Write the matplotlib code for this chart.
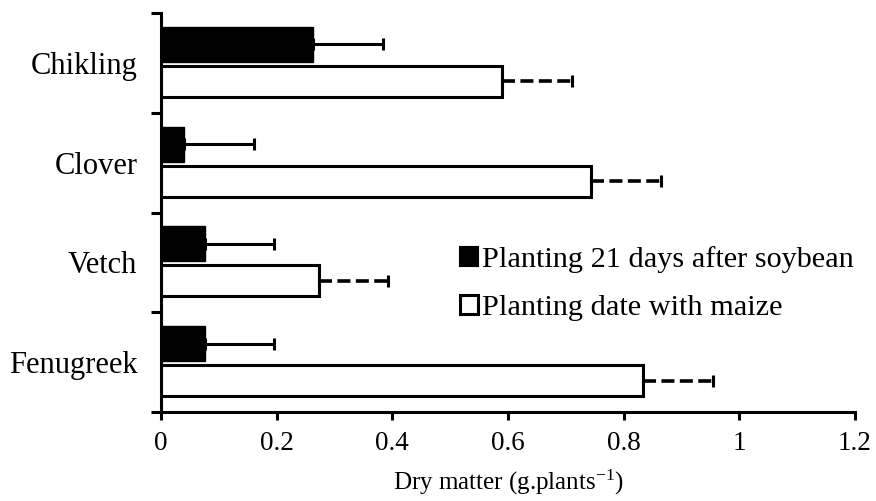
import matplotlib
matplotlib.use("Agg")
import matplotlib.pyplot as plt
from matplotlib.patches import Patch
import numpy as np

plt.rcParams['font.family'] = ['Liberation Serif', 'DejaVu Serif']
plt.rcParams['mathtext.default'] = 'regular'

crops = ["Fenugreek", "Vetch", "Clover", "Chikling"]
soy21 = [0.076, 0.076, 0.04, 0.263]
soy21_err = [0.12, 0.12, 0.12, 0.12]
maize = [0.834, 0.273, 0.744, 0.59]
maize_err = [0.12, 0.12, 0.12, 0.12]
series_labels = ["Planting 21 days after soybean", "Planting date with maize"]
xticks = [0, 0.2, 0.4, 0.6, 0.8, 1.0, 1.2]
xtick_labels = ["0", "0.2", "0.4", "0.6", "0.8", "1", "1.2"]

fig = plt.figure(figsize=(8.76, 5.01), dpi=100)
ax = fig.add_axes([161/876, 1 - 412/501, (855 - 161)/876, (412 - 13)/501])

y = np.arange(len(crops))
h = 0.35
off = 0.185
lw = 2.2

ax.barh(y + off, soy21, height=h, color="black", edgecolor="black", linewidth=1, zorder=2)
ax.barh(y - off, maize, height=h - 0.04, color="white", edgecolor="black", linewidth=lw, zorder=2)

e1 = ax.errorbar(soy21, y + off, xerr=[np.zeros(len(crops)), soy21_err], fmt="none",
                 ecolor="black", elinewidth=lw, capsize=4, capthick=lw, zorder=3)
e2 = ax.errorbar(maize, y - off, xerr=[np.zeros(len(crops)), maize_err], fmt="none",
                 ecolor="black", elinewidth=2.6, capsize=4, capthick=lw, zorder=3)
for lc in e2[2]:
    lc.set_linestyle((0, (3.6, 1.5)))

ax.set_xlim(0, 1.2)
ax.set_ylim(-0.5, len(crops) - 0.5)
ax.set_xticks(xticks)
ax.set_xticklabels(xtick_labels, fontsize=19.5)
ax.set_yticks(np.arange(-0.5, len(crops), 1.0))
ax.set_yticklabels([])
ax.set_yticks(y, minor=True)
ax.set_yticklabels(crops, minor=True, fontsize=22)
ax.tick_params(axis="y", which="minor", length=0, pad=17)
ax.tick_params(axis="y", which="major", length=7, width=lw, direction="out")
ax.tick_params(axis="x", which="major", length=6, width=lw, direction="out", pad=8)

for s in ["top", "right"]:
    ax.spines[s].set_visible(False)
for s in ["left", "bottom"]:
    ax.spines[s].set_linewidth(lw)

ax.set_xlabel("Dry matter (g.plants$^{-1}$)", fontsize=18, labelpad=8)

handles = [Patch(facecolor="black", edgecolor="black", linewidth=1.5),
           Patch(facecolor="white", edgecolor="black", linewidth=2.2)]
leg = ax.legend(handles, series_labels, loc="upper left", bbox_to_anchor=(460/876, 1 - 246/501),
                bbox_transform=fig.transFigure, frameon=False, fontsize=21.8,
                handlelength=0.6, handleheight=0.6, handletextpad=0.12, labelspacing=0.72,
                borderaxespad=0, borderpad=0)

fig.savefig("out.png", dpi=100)
